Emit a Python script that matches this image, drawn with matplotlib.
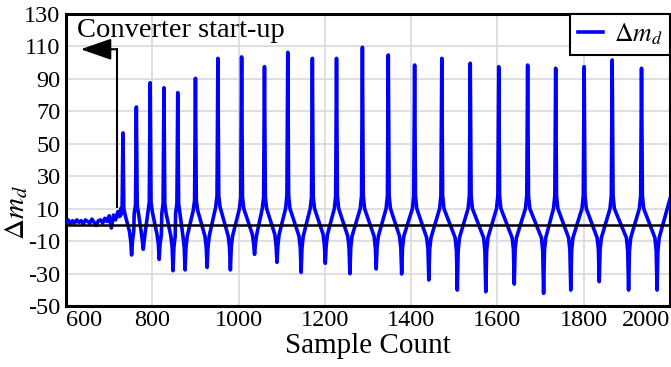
import numpy as np
import matplotlib
matplotlib.use("Agg")
import matplotlib.pyplot as plt
from matplotlib.patches import FancyArrowPatch

plt.rcParams['font.family'] = ['Liberation Serif', 'DejaVu Serif']
plt.rcParams['mathtext.fontset'] = 'stix'

# samples before the converter starts (every 5 samples from 600)
pre_x = np.arange(600, 720, 5)
pre_y = [1.5, 3.0, 0.5, 2.5, 1.0, 3.0, 1.5, 2.5, 0.5, 3.0, 2.0, 1.0,
         3.5, 1.5, -0.5, 2.5, 3.0, 1.0, 4.0, 2.0, 5.5, -2.0, 6.0, 3.0]

# start-up ramp before first spike
ramp_x = [720, 724, 727]
ramp_y = [8.0, 5.0, 10.0]

# positive spikes
spike_x = [732, 763, 795, 827, 859, 900, 952, 1007, 1060, 1114, 1171, 1227,
           1287, 1347, 1408, 1471, 1537, 1603, 1670, 1735, 1801, 1866, 1934]
spike_top = [56.5, 72.5, 87.4, 84.3, 81.3, 90.1, 102.4, 103.3, 97.3, 106.1, 102.4, 102.4,
             109.2, 104.5, 98.3, 102.4, 99.4, 97.3, 98.3, 96.3, 97.3, 101.4, 96.3]
spike_base = [10, 12, 14, 13, 13, 15, 18, 17, 17, 18, 17, 18,
              18, 18, 18, 18, 18, 18, 18, 18, 18, 18, 18]
spike_knee = [6, 7, 8, 7, 7, 9, 11, 10, 10, 10, 10, 10,
              10, 10, 10, 10, 10, 10, 10, 10, 10, 10, 10]

# negative troughs
trough_x = [752, 779, 816, 848, 876, 927, 981, 1037, 1089, 1145, 1201, 1258,
            1319, 1378, 1441, 1507, 1573, 1639, 1707, 1770, 1836, 1904, 1970]
trough_bottom = [-18.6, -15.1, -21.3, -28.3, -27.8, -26.2, -27.8, -18.2, -23.1, -29.3, -23.7, -30.1,
                 -27.2, -30.3, -34.0, -40.2, -41.2, -36.5, -42.2, -40.2, -35.0, -40.2, -40.2]
trough_shoulder = [-10, -10, -12, -14, -14, -14, -14, -12, -13, -14, -13, -14,
                   -14, -14, -15, -16, -16, -15, -16, -16, -15, -16, -16]
trough_knee = [-4, -4, -6, -7, -7, -7, -7, -6, -6, -7, -6, -7,
               -7, -7, -8, -8, -8, -8, -8, -8, -8, -8, -8]

end_x, end_y = 2000, 16.0

x_ticks = [600, 800, 1000, 1200, 1400, 1600, 1800, 2000]
y_ticks = [-50, -30, -10, 10, 30, 50, 70, 90, 110, 130]

# polyline vertices
xs = list(pre_x) + ramp_x
ys = list(pre_y) + ramp_y
for i in range(len(spike_x)):
    sx, tx = spike_x[i], trough_x[i]
    xs += [sx - 5, sx - 2, sx, sx + 2, sx + 5,
           tx - 5, tx - 2, tx, tx + 2, tx + 5]
    ys += [spike_knee[i], spike_base[i], spike_top[i], spike_base[i], spike_knee[i],
           trough_knee[i], trough_shoulder[i], trough_bottom[i], trough_shoulder[i], trough_knee[i]]
xs.append(end_x)
ys.append(end_y)

fig = plt.figure(figsize=(6.71, 3.67), dpi=100)
ax = fig.add_axes([0.0984, 0.1662, 0.9001, 0.797])

ax.plot(xs, ys, color='#0000FF', lw=2.6, label=r'$\Delta m_d$', zorder=3)
ax.axhline(0, color='black', lw=1.8, zorder=4)

# start-up marker
ax.plot([718, 718], [11, 108], color='black', lw=1.5, zorder=5)
arr = FancyArrowPatch((718, 108), (634, 108), arrowstyle='-|>,head_length=0.95,head_width=0.33',
                      mutation_scale=20, color='black', lw=1.5, shrinkA=0, shrinkB=0, zorder=5)
ax.add_patch(arr)
ax.text(0.018, 0.985, 'Converter start-up', transform=ax.transAxes, fontsize=20.5,
        ha='left', va='top')

ax.set_xlim(600, 2000)
ax.set_ylim(-50, 130)
ax.set_xticks(x_ticks)
ax.set_yticks(y_ticks)
ax.set_xticklabels([str(v) for v in x_ticks])
ax.set_yticklabels([str(v) for v in y_ticks])
lbls = ax.get_xticklabels()
lbls[0].set_ha('left')
lbls[-1].set_ha('right')
ax.tick_params(length=0, labelsize=17.5)
ax.tick_params(axis='x', pad=3)
ax.tick_params(axis='y', pad=4)

ax.grid(True, color='#d9d9d9', lw=1.2)
ax.set_axisbelow(True)
for s in ax.spines.values():
    s.set_linewidth(2.2)

ax.set_xlabel('Sample Count', fontsize=21, labelpad=1)
ax.set_ylabel(r'$\Delta m_d$', fontsize=21)
ax.yaxis.set_label_coords(-0.06, 0.32)

leg = ax.legend(loc='upper right', fontsize=18.5, fancybox=False, framealpha=1,
                edgecolor='black', borderaxespad=0, handlelength=1.0,
                handletextpad=0.4, borderpad=0.3)
leg.get_frame().set_linewidth(1.5)

fig.savefig('out.png', dpi=100)
